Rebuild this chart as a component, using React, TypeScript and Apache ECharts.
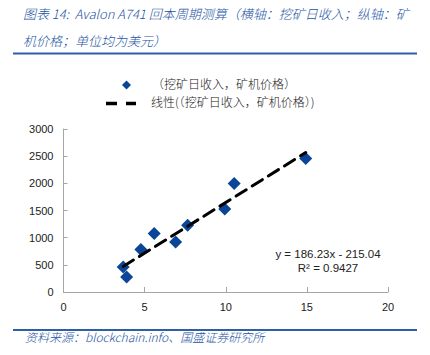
import React, { useEffect, useRef } from "react";
import * as echarts from "echarts";

const titleLine1 = "图表 14:  Avalon A741 回本周期测算（横轴：挖矿日收入；纵轴：矿";
const titleLine2 = "机价格；单位均为美元）";
const sourceText = "资料来源：blockchain.info、国盛证券研究所";
const seriesName = "（挖矿日收入，矿机价格）";
const trendName = "线性(（挖矿日收入，矿机价格）)";

const dailyIncome = [3.68, 3.89, 4.77, 5.59, 6.91, 7.65, 9.94, 10.52, 14.93];
const minerPrice = [460, 276, 780, 1075, 921, 1228, 1529, 1996, 2457];

const slope = 186.23;
const intercept = -215.04;
const rSquared = 0.9427;

const xTicks = [0, 5, 10, 15, 20];
const yTicks = [0, 500, 1000, 1500, 2000, 2500, 3000];

const BLUE = "#0a4597";
const TITLE_BLUE = "#2354a3";

export default function App() {
  const ref = useRef<HTMLDivElement>(null);
  useEffect(() => {
    const chart = echarts.init(ref.current!, null, { renderer: "svg" });
    const xMin = Math.min(...dailyIncome);
    const xMax = Math.max(...dailyIncome);
    const trend = [
      [xMin, slope * xMin + intercept],
      [xMax, slope * xMax + intercept],
    ];
    const cjk = '"Noto Sans CJK SC", sans-serif';
    chart.setOption({
      animation: false,
      grid: { left: 63.5, right: 42, top: 129, bottom: 63, containLabel: false },
      xAxis: {
        type: "value",
        min: xTicks[0],
        max: xTicks[xTicks.length - 1],
        interval: 5,
        splitLine: { show: false },
        axisLine: { lineStyle: { color: "#a6a6a6", width: 1 } },
        axisTick: { inside: true, length: 5, lineStyle: { color: "#a6a6a6" } },
        axisLabel: { color: "#222", fontSize: 11, fontFamily: "Liberation Sans", margin: 9, formatter: (v: number) => String(v) },
      },
      yAxis: {
        type: "value",
        min: yTicks[0],
        max: yTicks[yTicks.length - 1],
        interval: 500,
        splitLine: { show: false },
        axisLine: { show: true, lineStyle: { color: "#a6a6a6", width: 1 } },
        axisTick: { show: true, inside: true, length: 4, lineStyle: { color: "#a6a6a6" } },
        axisLabel: { color: "#222", fontSize: 11, fontFamily: "Liberation Sans", margin: 10, formatter: (v: number) => String(v) },
      },
      series: [
        {
          name: trendName,
          type: "line",
          data: trend,
          symbol: "none",
          lineStyle: { color: "#000", width: 3, type: [12, 7], cap: "round" },
          z: 3,
        },
        {
          name: seriesName,
          type: "scatter",
          data: dailyIncome.map((x, i) => [x, minerPrice[i]]),
          symbol: "diamond",
          symbolSize: 13,
          itemStyle: { color: BLUE, opacity: 1 },
          z: 2,
        },
      ],
      graphic: [
        {
          type: "text",
          left: 23,
          top: 7,
          style: { text: titleLine1, fill: TITLE_BLUE, font: `italic 300 13px ${cjk}` },
        },
        {
          type: "text",
          left: 23,
          top: 34,
          style: { text: titleLine2, fill: TITLE_BLUE, font: `italic 300 13px ${cjk}` },
        },
        {
          type: "line",
          shape: { x1: 13, y1: 53.5, x2: 417, y2: 53.5 },
          style: { stroke: "#2f5ea8", lineWidth: 2 },
        },
        {
          type: "line",
          shape: { x1: 13, y1: 330, x2: 417, y2: 330 },
          style: { stroke: "#2f5ea8", lineWidth: 2 },
        },
        {
          type: "text",
          left: 25,
          top: 330,
          style: { text: sourceText, fill: TITLE_BLUE, font: `italic 300 12px ${cjk}` },
        },
        // legend
        {
          type: "polygon",
          shape: { points: [[126.5, 80.5], [131, 85], [126.5, 89.5], [122, 85]] },
          style: { fill: BLUE },
        },
        {
          type: "text",
          left: 152,
          top: 77,
          style: { text: seriesName, fill: "#222", font: `300 12px ${cjk}` },
        },
        {
          type: "line",
          shape: { x1: 106, y1: 103.5, x2: 136, y2: 103.5 },
          style: { stroke: "#000", lineWidth: 3.5, lineDash: [11, 9] },
        },
        {
          type: "text",
          left: 151,
          top: 95,
          style: { text: trendName, fill: "#222", font: `300 12px ${cjk}` },
        },
        // equation
        {
          type: "text",
          x: 328,
          y: 253.5,
          style: {
            text: `y = ${slope}x - ${Math.abs(intercept)}`,
            fill: "#222",
            font: "11.5px Liberation Sans",
            align: "center",
            verticalAlign: "middle",
          },
        },
        {
          type: "text",
          x: 328,
          y: 268,
          style: {
            text: `R² = ${rSquared}`,
            fill: "#222",
            font: "11.5px Liberation Sans",
            align: "center",
            verticalAlign: "middle",
          },
        },
      ],
    });
    return () => chart.dispose();
  }, []);
  return <div ref={ref} style={{ width: 430, height: 355, position: "absolute", left: 0, top: 0 }} />;
}
